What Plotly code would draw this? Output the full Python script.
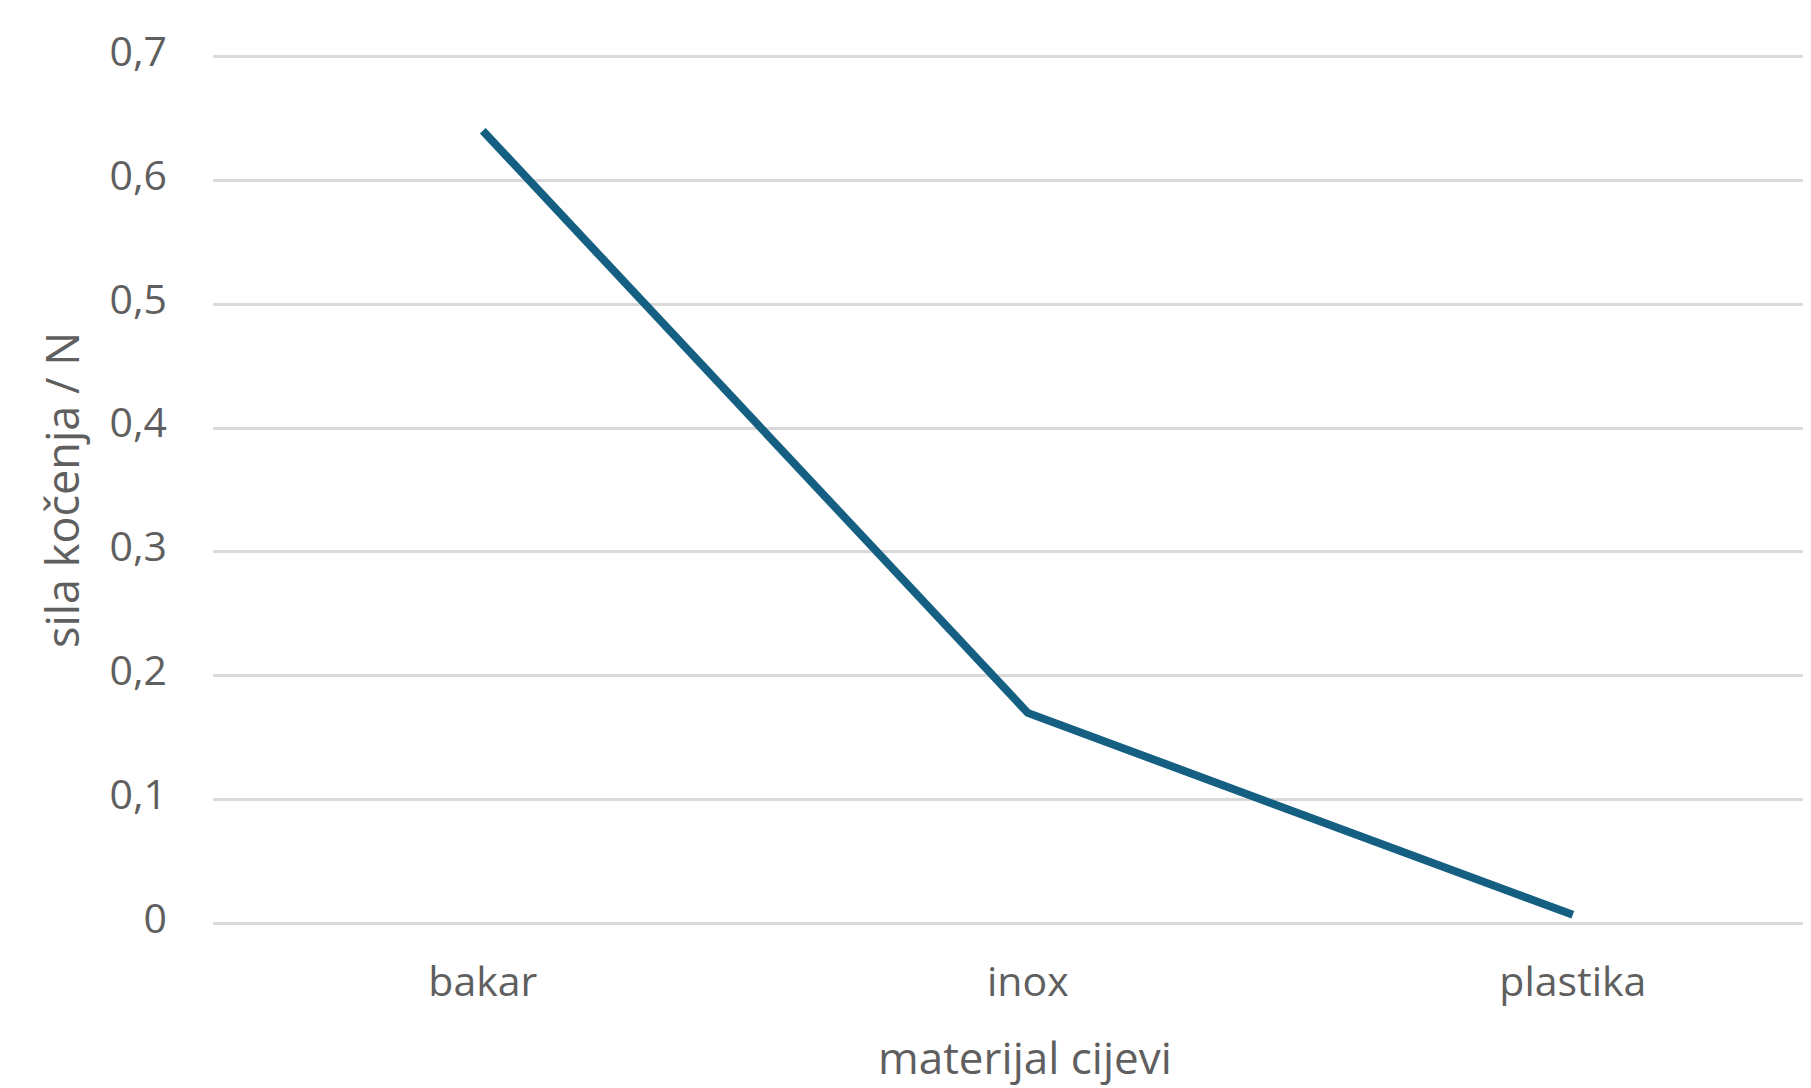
import plotly.graph_objects as go

categories = ["bakar", "inox", "plastika"]
sila = [0.64, 0.17, 0.007]
y_ticks = [0, 0.1, 0.2, 0.3, 0.4, 0.5, 0.6, 0.7]
y_tick_labels = ["0", "0,1", "0,2", "0,3", "0,4", "0,5", "0,6", "0,7"]
x_title = "materijal cijevi"
y_title = "sila kočenja / N"

FONT = "Open Sans"
GREY = "#5f5f5f"

fig = go.Figure()
fig.add_trace(go.Scatter(
    x=categories, y=sila, mode="lines",
    line=dict(color="#156082", width=8),
    showlegend=False, hoverinfo="skip",
))

# page body has an 8px margin, so the figure is 8px smaller than the window
fig.update_layout(
    width=1803, height=1080,
    paper_bgcolor="white", plot_bgcolor="white",
    margin=dict(l=205, r=0, t=46, b=162),
    font=dict(family=FONT, color=GREY, size=41),
    xaxis=dict(
        type="category",
        range=[-0.495, 2.437],
        showgrid=False, zeroline=False, showline=False,
        ticks="", ticklabelstandoff=28,
        tickfont=dict(size=41, color=GREY),
        automargin=False,
    ),
    yaxis=dict(
        range=[-0.002, 0.702],
        tickvals=y_ticks, ticktext=y_tick_labels,
        showgrid=True, gridcolor="#d9d9d9", gridwidth=3,
        zeroline=False, showline=False,
        ticks="", ticklabelstandoff=45, ticklabelshift=-5,
        tickfont=dict(size=41, color=GREY),
        title=dict(text=y_title, font=dict(size=45, color=GREY), standoff=15),
        automargin=False,
    ),
    annotations=[dict(
        text=x_title, xref="paper", yref="paper", x=0.508, y=0,
        xanchor="center", yanchor="middle", yshift=-131, showarrow=False,
        font=dict(size=44, color=GREY, family=FONT),
    )],
)

fig.write_html("out.html")
